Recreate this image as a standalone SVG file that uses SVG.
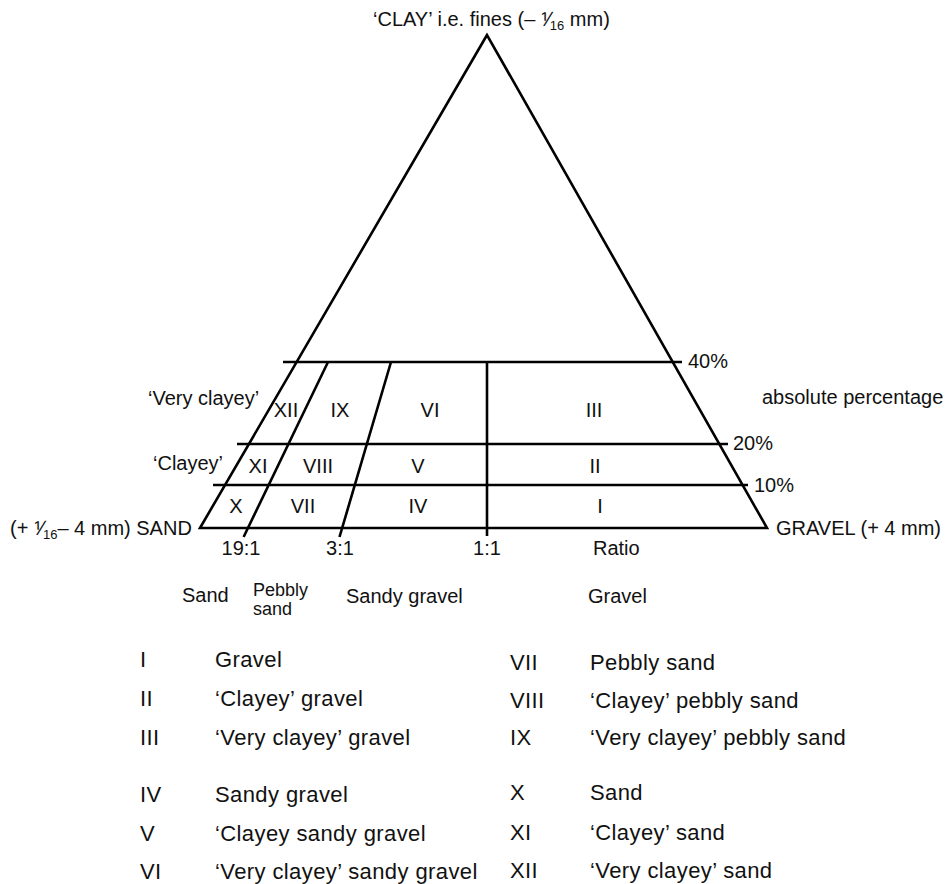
<svg xmlns="http://www.w3.org/2000/svg" width="950" height="884" viewBox="0 0 950 884">
<style>
.ln{stroke:#000;stroke-width:2.6;fill:none;stroke-linecap:butt}
text{font-family:"Liberation Sans",Arial,sans-serif;fill:#111}
.lb{font-size:20px}
.rn{font-size:20px;text-anchor:middle}
.lg{font-size:22px;letter-spacing:0.4px}
.sm{font-size:13px}
.pb{font-size:18px}
</style>
<rect width="950" height="884" fill="#fff"/>
<g id="connectors">
<polygon class="ln" points="487,35 200,528 767,528" stroke-linejoin="miter"/>
<line class="ln" x1="283" y1="362" x2="682" y2="362"/>
<line class="ln" x1="237" y1="444" x2="728" y2="444"/>
<line class="ln" x1="213" y1="485" x2="748" y2="485"/>
<line class="ln" x1="328" y1="362" x2="243.6" y2="537"/>
<line class="ln" x1="391" y1="362" x2="339.5" y2="537"/>
<line class="ln" x1="487" y1="362" x2="487" y2="536"/>
</g>
<g id="apex-label"><text class="lb" x="373" y="26">‘CLAY’ i.e. fines (– ⅟<tspan class="sm" dy="4">16</tspan><tspan dy="-4"> mm)</tspan></text></g>
<g id="sand-label"><text class="lb" x="10" y="535">(+ ⅟<tspan class="sm" dy="4">16</tspan><tspan dy="-4">– 4 mm) SAND</tspan></text></g>
<g id="gravel-label"><text class="lb" x="776" y="535">GRAVEL (+ 4 mm)</text></g>
<g id="very-clayey-label"><text class="lb" x="148" y="405">‘Very clayey’</text></g>
<g id="clayey-label"><text class="lb" x="153" y="470">‘Clayey’</text></g>
<g id="pct-labels">
<text class="lb" x="688" y="368">40%</text>
<text class="lb" x="733" y="450">20%</text>
<text class="lb" x="754" y="492">10%</text>
<text class="lb" x="762" y="404">absolute percentage</text>
</g>
<g id="regions">
<g id="r12"><text class="rn" x="286" y="417">XII</text></g>
<g id="r9"><text class="rn" x="340" y="417">IX</text></g>
<g id="r6"><text class="rn" x="430" y="417">VI</text></g>
<g id="r3"><text class="rn" x="594" y="417">III</text></g>
<g id="r11"><text class="rn" x="258" y="473">XI</text></g>
<g id="r8"><text class="rn" x="318" y="473">VIII</text></g>
<g id="r5"><text class="rn" x="418" y="473">V</text></g>
<g id="r2"><text class="rn" x="595" y="473">II</text></g>
<g id="r10"><text class="rn" x="236" y="513">X</text></g>
<g id="r7"><text class="rn" x="303" y="513">VII</text></g>
<g id="r4"><text class="rn" x="418" y="513">IV</text></g>
<g id="r1"><text class="rn" x="600" y="513">I</text></g>
</g>
<g id="ratio-labels">
<text class="rn" x="241" y="555">19:1</text>
<text class="rn" x="340" y="555">3:1</text>
<text class="rn" x="487" y="555">1:1</text>
<text class="lb" x="593" y="555">Ratio</text>
</g>
<g id="class-labels">
<text class="lb" x="182" y="602">Sand</text>
<text class="pb" x="253" y="596">Pebbly</text>
<text class="pb" x="253" y="615">sand</text>
<text class="lb" x="346" y="603">Sandy gravel</text>
<text class="lb" x="588" y="603">Gravel</text>
</g>
<g id="legend" class="lg">
<text x="140" y="667">I</text><text x="215" y="667">Gravel</text>
<text x="140" y="706">II</text><text x="215" y="706">‘Clayey’ gravel</text>
<text x="140" y="745">III</text><text x="215" y="745">‘Very clayey’ gravel</text>
<text x="140" y="802">IV</text><text x="215" y="802">Sandy gravel</text>
<text x="140" y="841">V</text><text x="215" y="841">‘Clayey sandy gravel</text>
<text x="140" y="879">VI</text><text x="215" y="879">‘Very clayey’ sandy gravel</text>
<text x="510" y="670">VII</text><text x="590" y="670">Pebbly sand</text>
<text x="510" y="708">VIII</text><text x="590" y="708">‘Clayey’ pebbly sand</text>
<text x="510" y="745">IX</text><text x="590" y="745">‘Very clayey’ pebbly sand</text>
<text x="510" y="800">X</text><text x="590" y="800">Sand</text>
<text x="510" y="840">XI</text><text x="590" y="840">‘Clayey’ sand</text>
<text x="510" y="878">XII</text><text x="590" y="878">‘Very clayey’ sand</text>
</g>
</svg>
